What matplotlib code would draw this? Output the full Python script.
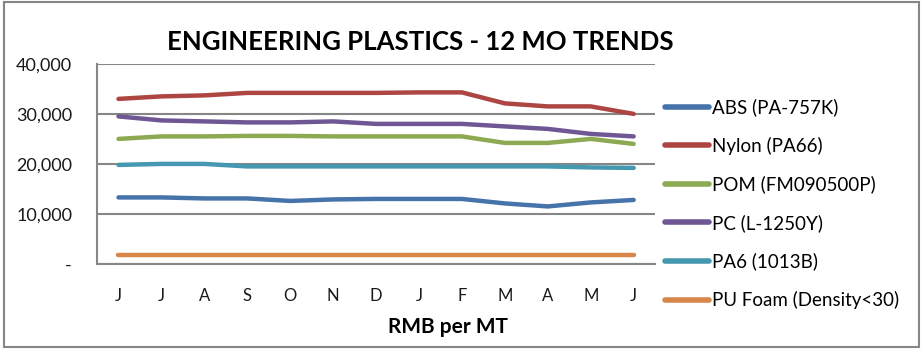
import matplotlib
matplotlib.use("Agg")
import matplotlib.pyplot as plt
from matplotlib.patches import Rectangle

plt.rcParams['font.family'] = ['Lato', 'DejaVu Sans']

# Months (Jun to Jun)
months = ['J', 'J', 'A', 'S', 'O', 'N', 'D', 'J', 'F', 'M', 'A', 'M', 'J']

# Prices, RMB per MT
abs_vals = [13300, 13300, 13100, 13100, 12600, 12900, 13000, 13000, 13000, 12100, 11500, 12300, 12800]
nylon_vals = [33000, 33500, 33700, 34200, 34200, 34200, 34200, 34300, 34300, 32100, 31500, 31500, 30000]
pom_vals = [25000, 25500, 25500, 25600, 25600, 25500, 25500, 25500, 25500, 24200, 24200, 25000, 24000]
pc_vals = [29500, 28700, 28500, 28300, 28300, 28500, 28000, 28000, 28000, 27500, 27000, 26000, 25500]
pa6_vals = [19800, 20000, 20000, 19500, 19500, 19500, 19500, 19500, 19500, 19500, 19500, 19300, 19200]
pu_vals = [1800] * 13

series = [
    ('ABS (PA-757K)', abs_vals, '#4674AA'),
    ('Nylon (PA66)', nylon_vals, '#AD4643'),
    ('POM (FM090500P)', pom_vals, '#8DAA52'),
    ('PC (L-1250Y)', pc_vals, '#6F5793'),
    ('PA6 (1013B)', pa6_vals, '#4499B0'),
    ('PU Foam (Density<30)', pu_vals, '#D8864A'),
]

yticks = [0, 10000, 20000, 30000, 40000]
ytick_labels = ['-', '10,000', '20,000', '30,000', '40,000']

fig = plt.figure(figsize=(9.24, 3.51), dpi=100)
ax = fig.add_axes([0.105, 0.248, 0.604, 0.570])

x = list(range(len(months)))
for name, vals, col in series:
    ax.plot(x, vals, color=col, linewidth=3.2, label=name, solid_capstyle='round')

ax.set_xlim(-0.5, len(months) - 0.5)
ax.set_ylim(0, 40000)
ax.set_yticks(yticks)
ax.set_yticklabels(ytick_labels)
ax.set_xticks(x)
ax.set_xticklabels(months)
ax.tick_params(axis='both', length=0, colors='#1a1a1a')
ax.tick_params(axis='x', pad=17, labelsize=12)
ax.tick_params(axis='y', pad=18, labelsize=13)

ax.yaxis.grid(True, color='#868686', linewidth=1.5)
ax.set_axisbelow(True)
for s in ['top', 'right']:
    ax.spines[s].set_visible(False)
for s in ['left', 'bottom']:
    ax.spines[s].set_color('#868686')
    ax.spines[s].set_linewidth(1.5)

fig.text(448 / 924, 1 - 327 / 351, 'RMB per MT', ha='center', va='center',
         fontsize=15, fontweight='bold')
fig.text(420 / 924, 1 - 42 / 351, 'ENGINEERING PLASTICS - 12 MO TRENDS',
         ha='center', va='center', fontsize=18.5, fontweight='bold')

leg = ax.legend(loc='upper left', bbox_to_anchor=(656 / 924, 1 - 89 / 351),
                bbox_transform=fig.transFigure, frameon=False, fontsize=13.5,
                handlelength=2.3, handletextpad=0.2, borderpad=0,
                labelspacing=1.1)
for line in leg.get_lines():
    line.set_linewidth(4)

fig.patches.append(Rectangle((0.004, 0.01), 0.991, 0.983, transform=fig.transFigure,
                             fill=False, edgecolor='#868686', linewidth=1.5))

fig.savefig('out.png', dpi=100)
